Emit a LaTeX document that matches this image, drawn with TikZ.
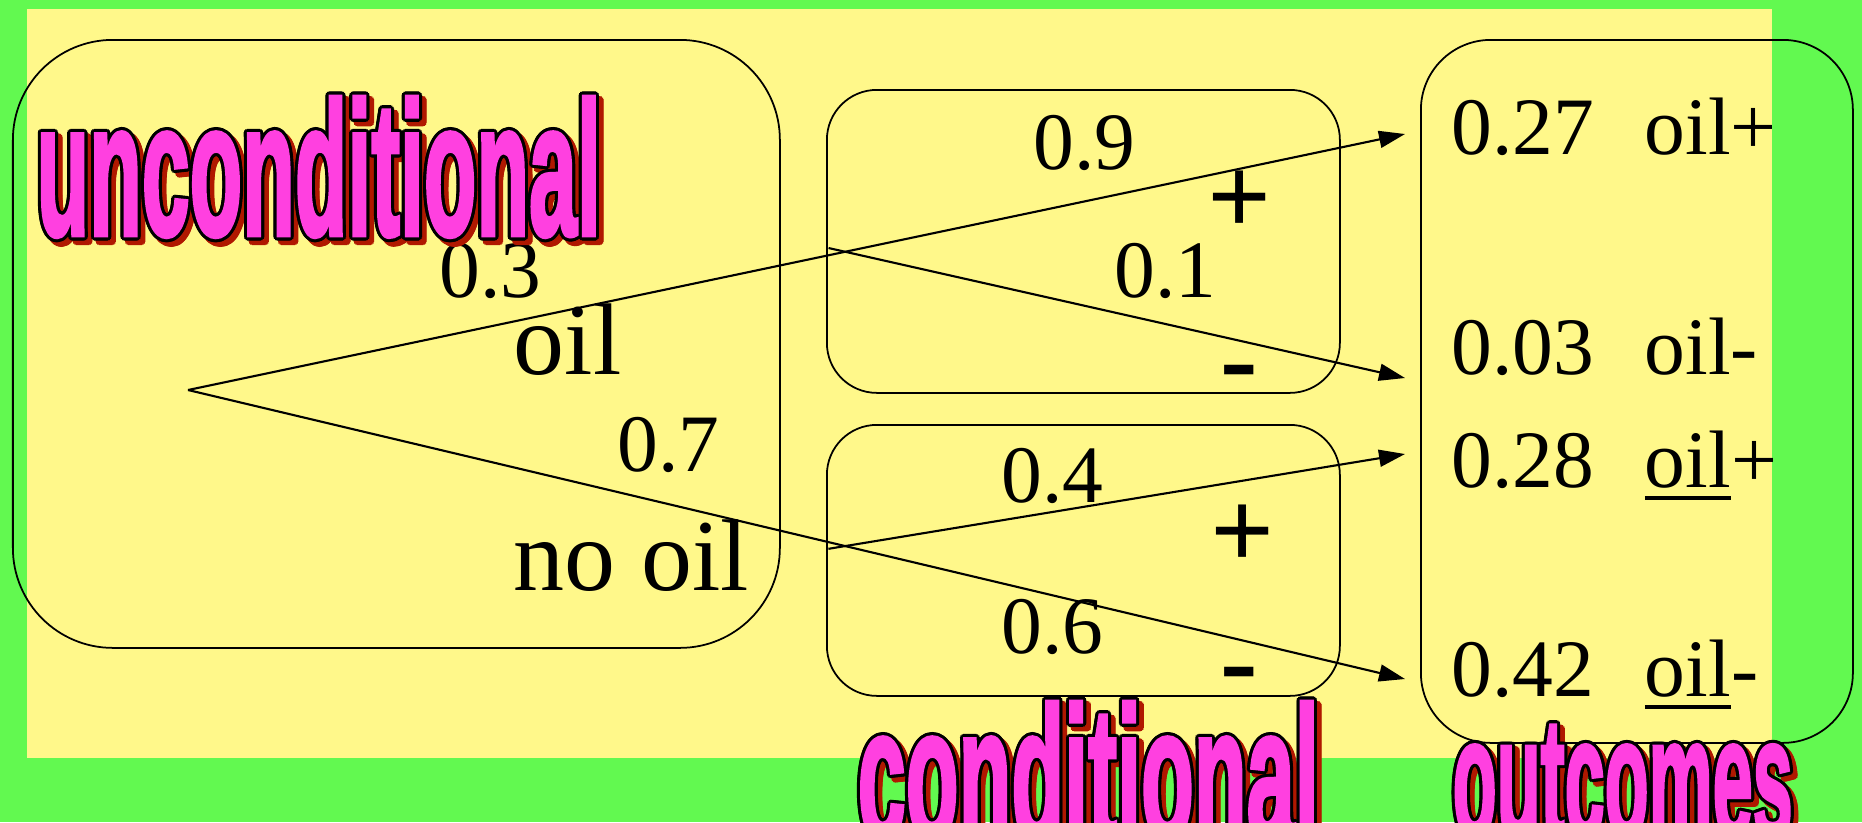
\documentclass[tikz,border=0pt]{standalone}
\usepackage{fontspec}
\setmainfont{Liberation Serif}
\newfontfamily\headfont{Liberation Sans}[BoldFeatures={FakeBold=2.5}]
\usepackage{xcolor}
\usepackage{graphicx}
\usepackage{tikz}
\usetikzlibrary{arrows.meta,calc}
\definecolor{slidegreen}{HTML}{62F950}
\definecolor{slideyellow}{HTML}{FFF88A}
\definecolor{headpink}{HTML}{FF40E0}
\definecolor{headshadow}{HTML}{B01800}

\newsavebox\headshadowbox
\newsavebox\headlinebox
\newsavebox\headfillbox
% pink outlined word with a dark red drop shadow
\newcommand\headword[3]{%
  \sbox\headshadowbox{\resizebox{#1}{#2}{\color{headshadow}\headfont\bfseries\vphantom{d}#3}}%
  \sbox\headlinebox{\resizebox{#1}{#2}{\color{black}\headfont\bfseries\vphantom{d}#3}}%
  \sbox\headfillbox{\resizebox{#1}{#2}{\color{headpink}\headfont\bfseries\vphantom{d}#3}}%
  \foreach \a in {0,30,...,330}{%
    \pgfmathsetlengthmacro\hx{1.3pt+0.9pt*cos(\a)}%
    \pgfmathsetlengthmacro\hy{-1.3pt+0.9pt*sin(\a)}%
    \rlap{\kern\hx\raisebox{\hy}{\usebox\headshadowbox}}}%
  \foreach \a in {0,30,...,330}{%
    \pgfmathsetlengthmacro\hx{0.9pt*cos(\a)}%
    \pgfmathsetlengthmacro\hy{0.9pt*sin(\a)}%
    \rlap{\kern\hx\raisebox{\hy}{\usebox\headlinebox}}}%
  \usebox\headfillbox}
\newcommand\notoil{{\setbox0\hbox{oil}\rlap{\rule[-3.6pt]{\wd0}{1.1pt}}\box0}}

\begin{document}
\begin{tikzpicture}[
    bubble/.style={draw,line width=.5pt,inner sep=0pt,anchor=north west},
    prob/.style={inner sep=0pt,anchor=base west,font=\fontsize{23.2}{26}\selectfont},
    event/.style={inner sep=0pt,anchor=base west,font=\fontsize{29}{33}\selectfont},
    sign/.style={inner sep=0pt,anchor=base,font=\fontsize{32}{36}\selectfont\bfseries},
    head/.style={inner sep=0pt,anchor=base west},
    branch/.style={line width=.6pt,-{Triangle[length=2.6mm,width=1.7mm]}}]
  \useasboundingbox (0,0) rectangle (18.62,-8.22);
  \clip (0,0) rectangle (18.62,-8.22);
  \fill[slidegreen] (0,0) rectangle (18.62,-8.22);
  \fill[slideyellow] (0.27,-0.09) rectangle (17.72,-7.58);

  \node[bubble,rounded corners=1cm,minimum width=7.67cm,minimum height=6.08cm] (uncond) at (0.12,-0.39) {};
  \node[bubble,rounded corners=.5cm,minimum width=5.13cm,minimum height=3.03cm] (condplus) at (8.26,-0.89) {};
  \node[bubble,rounded corners=.5cm,minimum width=5.13cm,minimum height=2.71cm] (condminus) at (8.26,-4.24) {};
  \node[bubble,rounded corners=.7cm,minimum width=4.32cm,minimum height=7.03cm] (outc) at (14.20,-0.39) {};

  % decision tree
  \coordinate (root) at (1.88,-3.90);
  \coordinate (t27) at (14.05,-1.34);
  \coordinate (t03) at (14.05,-3.78);
  \coordinate (t28) at (14.05,-4.54);
  \coordinate (t42) at (14.05,-6.79);
  \coordinate (fork1) at ($(root)!0.54!(t27)$);
  \coordinate (fork2) at ($(root)!0.54!(t42)$);
  \draw[branch] (root) -- (t27);
  \draw[branch] (root) -- (t42);
  \draw[branch] ($(fork1)!-1.7mm!(t03)$) -- (t03);
  \draw[branch] ($(fork2)!-1.7mm!(t28)$) -- (t28);

  \node[prob] (p3) at (4.39,-2.97) {0.3};
  \node[event] (oil) at (5.13,-3.74) {oil};
  \node[prob] (p7) at (6.17,-4.71) {0.7};
  \node[event] (nooil) at (5.13,-5.90) {no oil};

  \node[prob] (p9) at (10.33,-1.69) {0.9};
  \node[prob] (p1) at (11.14,-2.97) {0.1};
  \node[prob] (p4) at (10.01,-5.02) {0.4};
  \node[prob] (p6) at (10.01,-6.53) {0.6};
  \node[sign] (plusA) at (12.40,-2.34) {+};
  \node[sign] (minusA) at (12.39,-3.96) {-};
  \node[sign] (plusB) at (12.43,-5.68) {+};
  \node[sign] (minusB) at (12.39,-6.98) {-};

  \node[prob] (o27) at (14.51,-1.54) {0.27\hspace{.62em}oil+};
  \node[prob] (o03) at (14.51,-3.74) {0.03\hspace{.62em}oil-};
  \node[prob] (o28) at (14.51,-4.87) {0.28\hspace{.62em}\notoil+};
  \node[prob] (o42) at (14.51,-6.96) {0.42\hspace{.62em}\notoil-};

  \node[head] (uncondhead) at (0.36,-2.35) {\headword{5.64cm}{1.38cm}{unconditional}};
  \node[head] (condhead) at (8.57,-8.40) {\headword{4.61cm}{1.38cm}{conditional}};
  \node[head] (outchead) at (14.52,-8.38) {\headword{3.40cm}{1.25cm}{outcomes}};
\end{tikzpicture}
\end{document}
